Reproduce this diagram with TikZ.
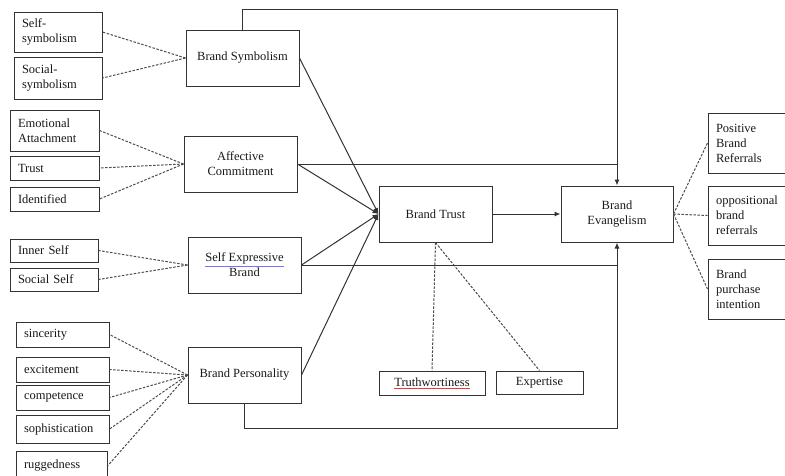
\documentclass[tikz,border=0pt]{standalone}
\usepackage{fontspec}
\setmainfont{Liberation Serif}
\usepackage{tikz}
\usetikzlibrary{arrows.meta,positioning}
\newcommand{\markul}[2]{\textcolor{#1}{\underline{\textcolor{black!90}{#2}}}}

\begin{document}
\begin{tikzpicture}[x=1pt,y=-1pt,font=\fontsize{12.5pt}{15pt}\selectfont,
    >={Latex[length=6pt,width=5pt]},
    box/.style={draw=black!80,line width=1pt,text=black!90,inner sep=0pt},
    leaf/.style={box,align=left,inner xsep=8pt},
    core/.style={box,align=center,minimum width=113pt,minimum height=56pt},
    link/.style={black!70,line width=1pt,dash pattern=on 2.5pt off 1.5pt},
    flow/.style={black!80,line width=1pt}]
  \clip (0,0) rectangle (785,475);
  \node[leaf,text width=72pt,minimum height=40pt] (selfsym) at (58,32) {Self-\\symbolism};
  \node[leaf,text width=72pt,minimum height=42pt] (socsym) at (58,78) {Social-\\symbolism};
  \node[leaf,text width=73pt,minimum height=41pt] (emo) at (54.5,130.5) {Emotional\\Attachment};
  \node[leaf,text width=73pt,minimum height=24pt] (trust) at (54.5,168) {Trust};
  \node[leaf,text width=73pt,minimum height=24pt] (ident) at (54.5,199) {Identified};
  \node[leaf,text width=72pt,minimum height=23pt] (inner) at (54,250.5) {Inner Self};
  \node[leaf,text width=72pt,minimum height=23pt] (socself) at (54,279.5) {Social Self};
  \node[leaf,text width=77pt,minimum height=25pt] (sinc) at (62.5,334.5) {sincerity};
  \node[leaf,text width=77pt,minimum height=25pt] (exc) at (62.5,369.5) {excitement};
  \node[leaf,text width=77pt,minimum height=25pt] (comp) at (62.5,397.5) {competence};
  \node[leaf,text width=77pt,minimum height=28pt] (soph) at (62.5,429) {sophistication};
  \node[leaf,text width=75pt,minimum height=30pt] (rugg) at (61.5,466) {ruggedness};

  \node[core] (bsym) at (242.5,58) {Brand Symbolism};
  \node[core] (affc) at (240.5,164) {Affective\\Commitment};
  \node[core] (sexp) at (244.5,265) {\markul{blue!55}{Self Expressive}\\Brand};
  \node[core] (bpers) at (244.5,375) {Brand Personality};
  \node[core] (btrust) at (435.5,214) {Brand Trust};
  \node[core,minimum width=112pt] (bevan) at (617,214) {Brand\\Evangelism};

  \node[box,minimum width=106pt,minimum height=24pt] (truth) at (432,383) {\markul{red!80}{Truthwortiness}};
  \node[box,minimum width=87pt,minimum height=23pt] (expert) at (539.5,382.5) {Expertise};

  \node[leaf,text width=66pt,minimum height=60pt] (pos) at (749,143) {Positive\\Brand\\Referrals};
  \node[leaf,text width=66pt,minimum height=59pt] (opp) at (749,215.5) {oppositional\\brand\\referrals};
  \node[leaf,text width=66pt,minimum height=60pt] (purch) at (749,289) {Brand\\purchase\\intention};

  \path[link] (bsym.west) edge (selfsym.east) edge (socsym.east);
  \path[link] (affc.west) edge (emo.east) edge (trust.east) edge (ident.east);
  \path[link] (sexp.west) edge (inner.east) edge (socself.east);
  \path[link] (bpers.west) edge (sinc.east) edge (exc.east) edge (comp.east) edge (soph.east) edge (rugg.east);
  \path[link] (btrust.south) edge (truth.north) edge (expert.north);
  \path[link] (bevan.east) edge (pos.west) edge (opp.west) edge (purch.west);

  \path[flow,->] (bsym.east) edge (btrust.west);
  \path[flow,->] (affc.east) edge (btrust.west);
  \path[flow,->] (sexp.east) edge (btrust.west);
  \path[flow,->] (bpers.east) edge (btrust.west);
  \path[flow,->] (btrust) edge (bevan);
  \draw[flow,->] (bsym.north) -- ++(0,-20) -| (bevan.north);
  \draw[flow] (affc.east) -- (affc.east -| bevan.north);
  \draw[flow] (sexp.east) -- (sexp.east -| bevan.south);
  \draw[flow,->] (bpers.south) -- ++(0,25) -| (bevan.south);
\end{tikzpicture}
\end{document}
